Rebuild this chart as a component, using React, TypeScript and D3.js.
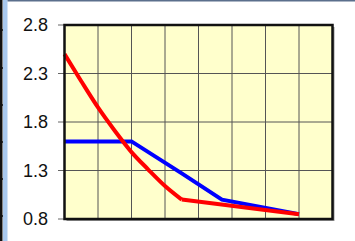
import React from "react";
import * as d3 from "d3";

const yTicks = [0.8, 1.3, 1.8, 2.3, 2.8];
const xGrid = [1, 2, 3, 4, 5, 6, 7];
const redX = [0, 0.5, 1, 1.5, 2, 2.5, 3, 3.5, 7];
const redY = [2.5, 2.22, 1.95, 1.71, 1.49, 1.31, 1.14, 1.0, 0.85];
const blueX = [0, 2, 3.5, 4.7, 7];
const blueY = [1.6, 1.6, 1.27, 1.0, 0.85];
const leftTicks = [30, 68, 105, 142, 179, 216];

const W = 355;
const H = 241;

export default function App() {
  const x = d3.scaleLinear().domain([0, 8]).range([64.5, 332.5]);
  const y = d3.scaleLinear().domain([0.8, 2.8]).range([219, 25]);
  const line = d3
    .line<[number, number]>()
    .x((d) => x(d[0]))
    .y((d) => y(d[1]));
  const smooth = d3
    .line<[number, number]>()
    .x((d) => x(d[0]))
    .y((d) => y(d[1]))
    .curve(d3.curveMonotoneX);
  const red = redX.map((v, i) => [v, redY[i]] as [number, number]);
  const blue = blueX.map((v, i) => [v, blueY[i]] as [number, number]);
  const redCurve = red.slice(0, red.length - 1);
  const redTail = red.slice(red.length - 2);
  const [x0, x1] = x.range();
  const [y0, y1] = y.range();
  return (
    <svg
      width={W}
      height={H}
      style={{ position: "fixed", left: 0, top: 0, background: "#fff" }}
    >
      <rect x={0} y={0} width={W} height={H} fill="#fff" />
      {/* left frame remnants */}
      <rect x={0} y={0} width={2.5} height={H} fill="#111" />
      {leftTicks.map((t) => (
        <rect key={t} x={0} y={t - 0.75} width={4} height={1.5} fill="#111" />
      ))}
      <rect x={3} y={0} width={4.5} height={H} fill="#a9c9ef" />
      <rect x={7.5} y={0} width={W} height={1.5} fill="#5b6f8c" />

      {/* plot shadow */}
      <rect x={x0 + 2} y={y1 + 2} width={x1 - x0} height={y0 - y1} fill="#9a9a9a" />
      <rect x={x0} y={y1} width={x1 - x0} height={y0 - y1} fill="#ffffcc" />

      {/* gridlines */}
      {yTicks.slice(1, -1).map((t) => (
        <line key={t} x1={x0} x2={x1} y1={y(t)} y2={y(t)} stroke="#555" strokeWidth={1} />
      ))}
      {xGrid.map((t) => (
        <line key={t} x1={x(t)} x2={x(t)} y1={y1} y2={y0} stroke="#555" strokeWidth={1} />
      ))}

      {/* tick marks */}
      {yTicks.map((t) => (
        <line key={t} x1={58} x2={x0} y1={y(t)} y2={y(t)} stroke="#666" strokeWidth={1} />
      ))}

      {/* labels */}
      {yTicks.map((t) => (
        <text
          key={t}
          x={48}
          y={y(t)}
          dy="0.36em"
          textAnchor="end"
          fontFamily="Liberation Sans, Arial, sans-serif"
          fontSize={18}
          fill="#111"
        >
          {d3.format(".1f")(t)}
        </text>
      ))}

      {/* series */}
      <path d={line(blue) ?? ""} fill="none" stroke="#0000ff" strokeWidth={4} strokeLinejoin="miter" />
      <path d={smooth(redCurve) ?? ""} fill="none" stroke="#ff0000" strokeWidth={4} />
      <path d={line(redTail) ?? ""} fill="none" stroke="#ff0000" strokeWidth={4} />

      {/* plot border */}
      <rect
        x={x0}
        y={y1}
        width={x1 - x0}
        height={y0 - y1}
        fill="none"
        stroke="#111"
        strokeWidth={2.5}
      />
    </svg>
  );
}
